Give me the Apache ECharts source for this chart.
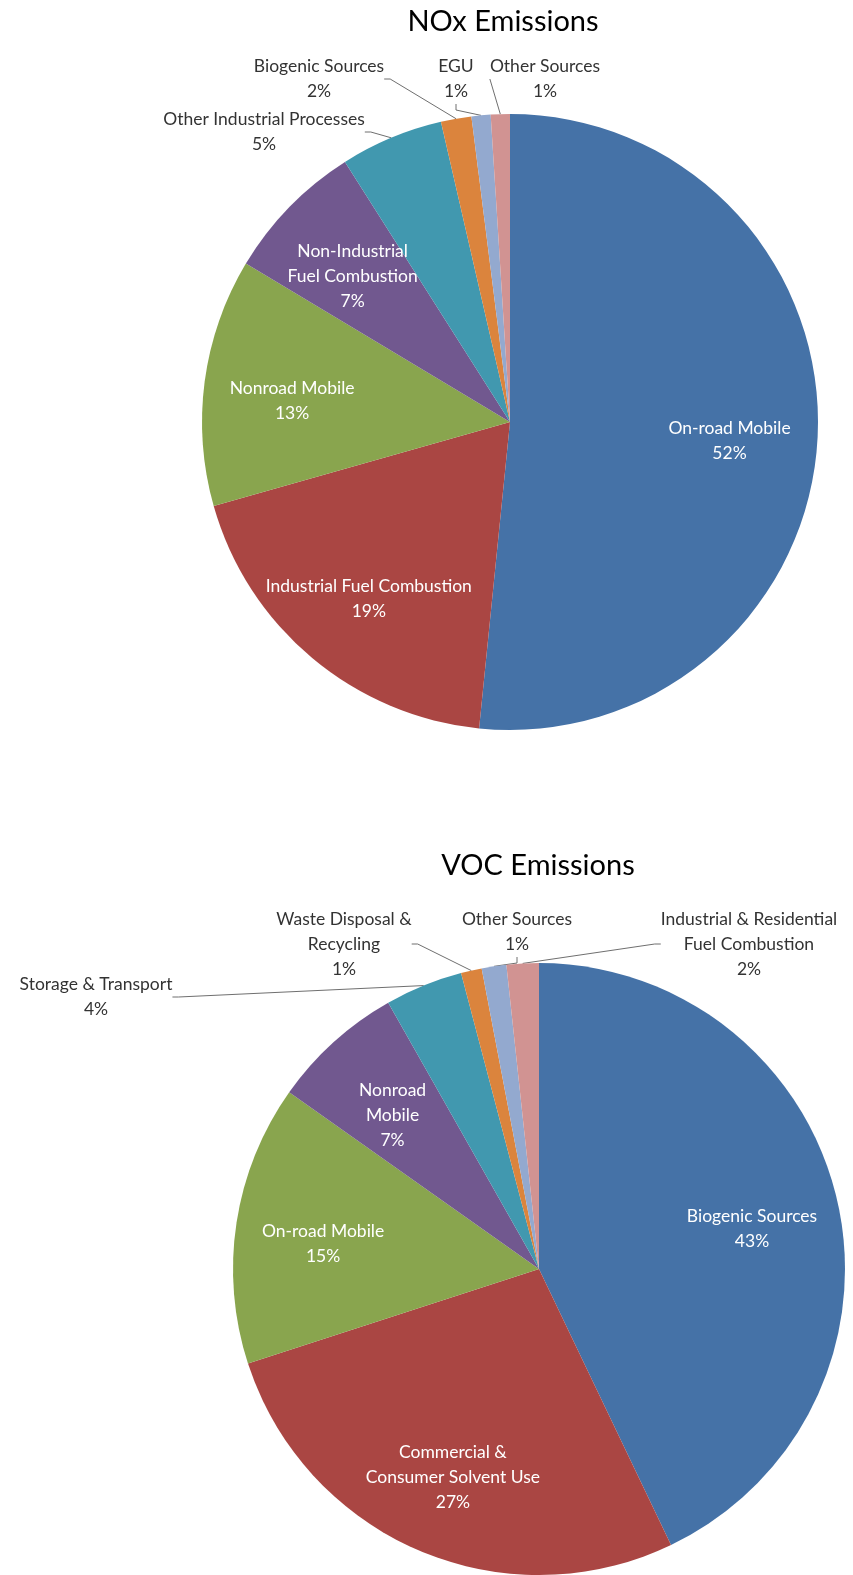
<!DOCTYPE html>
<html>
<head>
<meta charset="utf-8">
<title>NOx and VOC Emissions</title>
<script src="https://cdn.jsdelivr.net/npm/echarts@6/dist/echarts.min.js"></script>
<style>
  html, body { margin: 0; padding: 0; background: #fff; }
  #chart { width: 853px; height: 1575px; }
</style>
</head>
<body>
<div id="chart"></div>
<script>
// NOx source categories, clockwise from 12 o'clock
const noxCategories = [
  "On-road Mobile",
  "Industrial Fuel Combustion",
  "Nonroad Mobile",
  "Non-Industrial\nFuel Combustion",
  "Other Industrial Processes",
  "Biogenic Sources",
  "EGU",
  "Other Sources"
];
const noxValues = [51.6, 19.0, 13.0, 7.4, 5.4, 1.6, 1.0, 1.0];

// VOC source categories, clockwise from 12 o'clock
const vocCategories = [
  "Biogenic Sources",
  "Commercial &\nConsumer Solvent Use",
  "On-road Mobile",
  "Nonroad\nMobile",
  "Storage & Transport",
  "Waste Disposal &\nRecycling",
  "Other Sources",
  "Industrial & Residential\nFuel Combustion"
];
const vocValues = [42.9, 27.1, 14.8, 7.0, 4.1, 1.1, 1.3, 1.7];

const sliceColors = ["#4572A7", "#AA4643", "#89A54E", "#71588F", "#4198AF", "#DB843D", "#93A9CF", "#D19392"];
const fontFamily = "Lato, 'Open Sans', sans-serif";

// layout
const noxCenter = [510, 422];
const vocCenter = [539, 1269];
const noxRadius = 308;
const vocRadius = 306;
// where the small-slice labels sit (outside the pie)
const noxOutsideSpots = { 4: [264, 132], 5: [319, 79], 6: [456, 79], 7: [545, 79] };
const vocOutsideSpots = { 4: [96, 997], 5: [344, 944], 6: [517, 932], 7: [749, 944] };

function buildData(names, values, spots) {
  return names.map((name, i) => {
    const item = { name: name, value: values[i], itemStyle: { color: sliceColors[i] } };
    if (spots[i]) {
      item.label = { position: "outside", color: "#333" };
      item.labelLine = { show: true };
    }
    return item;
  });
}

function labelLayoutFor(center, spots) {
  return function (params) {
    const spot = spots[params.dataIndex];
    if (spot) {
      return { x: spot[0], y: spot[1], align: "center", verticalAlign: "middle" };
    }
    // push inside labels further out, Excel puts them at ~0.7 r
    const r = params.labelRect;
    const lx = r.x + r.width / 2;
    const ly = r.y + r.height / 2;
    return { dx: (lx - center[0]) * 0.4, dy: (ly - center[1]) * 0.4 + 8 };
  };
}

function pieSeries(name, names, values, center, radius, spots) {
  return {
    name: name,
    type: "pie",
    center: center,
    radius: [0, radius],
    startAngle: 90,
    clockwise: true,
    percentPrecision: 0,
    avoidLabelOverlap: false,
    silent: true,
    itemStyle: { borderWidth: 0 },
    label: {
      show: true,
      position: "inside",
      formatter: "{b}\n{d}%",
      color: "#fff",
      fontFamily: fontFamily,
      fontSize: 17.5,
      lineHeight: 25,
      align: "center"
    },
    labelLine: {
      show: false,
      length: 8,
      length2: 6,
      smooth: false,
      lineStyle: { color: "#6f6f6f", width: 1 }
    },
    labelLayout: labelLayoutFor(center, spots),
    data: buildData(names, values, spots)
  };
}

const chart = echarts.init(document.getElementById("chart"), null, { renderer: "canvas" });

const options = {
  backgroundColor: "#fff",
  animation: false,
  title: [
    {
      text: "NOx Emissions",
      left: 498,
      top: 2,
      textAlign: "center",
      textStyle: { fontFamily: fontFamily, fontSize: 29, fontWeight: "normal", color: "#000" }
    },
    {
      text: "VOC Emissions",
      left: 533,
      top: 846,
      textAlign: "center",
      textStyle: { fontFamily: fontFamily, fontSize: 29, fontWeight: "normal", color: "#000" }
    }
  ],
  series: [
    pieSeries("NOx", noxCategories, noxValues, noxCenter, noxRadius, noxOutsideSpots),
    pieSeries("VOC", vocCategories, vocValues, vocCenter, vocRadius, vocOutsideSpots)
  ]
};

chart.setOption(options);

window.addEventListener("resize", () => {
  chart.resize();
});
</script>
</body>
</html>
